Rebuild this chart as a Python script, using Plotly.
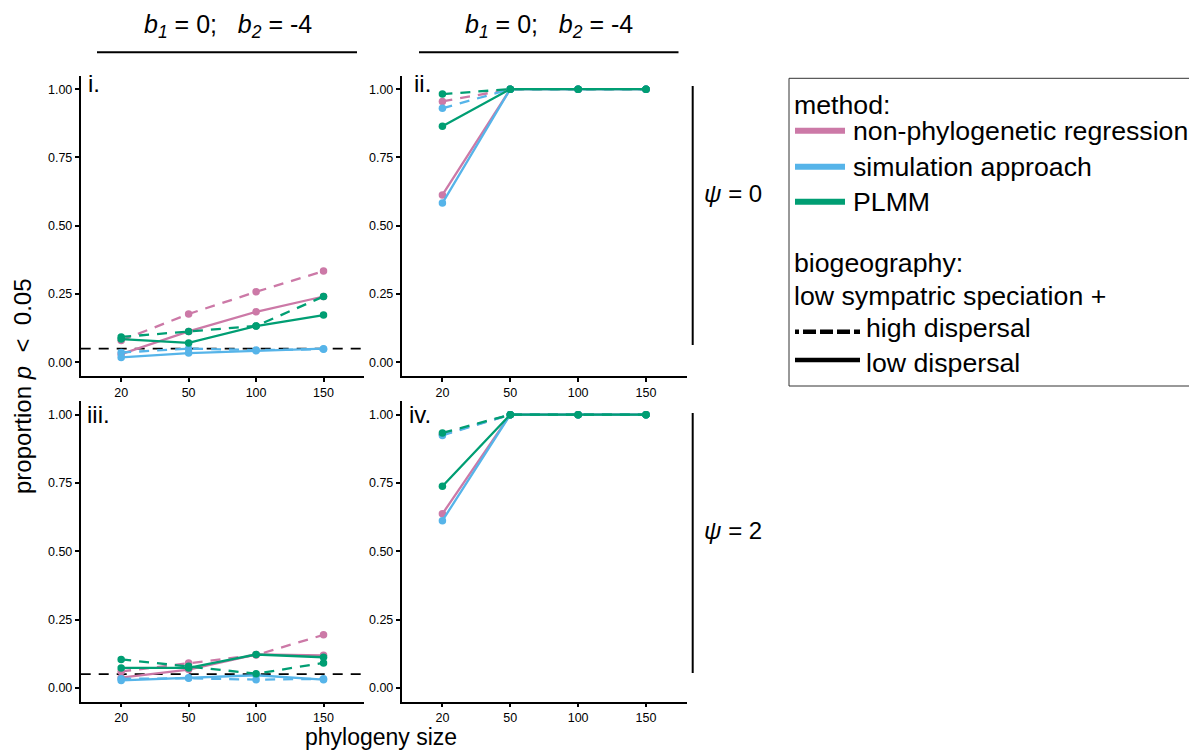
import plotly.graph_objects as go

W, H = 1189, 750

# ---------------- data ----------------
sizes = ["20", "50", "100", "150"]
alpha = 0.05
y_ticks = [0.0, 0.25, 0.5, 0.75, 1.0]

# panel i   (psi = 0, left)
i_nonphylo_high = [0.080, 0.177, 0.258, 0.334]
i_nonphylo_low = [0.030, 0.113, 0.185, 0.241]
i_sim_high = [0.036, 0.050, 0.045, 0.048]
i_sim_low = [0.018, 0.034, 0.042, 0.050]
i_plmm_high = [0.093, 0.113, 0.133, 0.241]
i_plmm_low = [0.085, 0.071, 0.133, 0.173]

# panel ii  (psi = 0, right)
ii_nonphylo_high = [0.955, 1.0, 1.0, 1.0]
ii_nonphylo_low = [0.613, 1.0, 1.0, 1.0]
ii_sim_high = [0.930, 1.0, 1.0, 1.0]
ii_sim_low = [0.583, 1.0, 1.0, 1.0]
ii_plmm_high = [0.982, 1.0, 1.0, 1.0]
ii_plmm_low = [0.864, 1.0, 1.0, 1.0]

# panel iii (psi = 2, left)
iii_nonphylo_high = [0.060, 0.091, 0.120, 0.194]
iii_nonphylo_low = [0.037, 0.067, 0.122, 0.119]
iii_sim_high = [0.033, 0.035, 0.030, 0.033]
iii_sim_low = [0.027, 0.037, 0.046, 0.030]
iii_plmm_high = [0.104, 0.079, 0.052, 0.091]
iii_plmm_low = [0.073, 0.073, 0.122, 0.112]

# panel iv  (psi = 2, right)
iv_nonphylo_high = [0.927, 1.0, 1.0, 1.0]
iv_nonphylo_low = [0.637, 1.0, 1.0, 1.0]
iv_sim_high = [0.924, 1.0, 1.0, 1.0]
iv_sim_low = [0.612, 1.0, 1.0, 1.0]
iv_plmm_high = [0.933, 1.0, 1.0, 1.0]
iv_plmm_low = [0.738, 1.0, 1.0, 1.0]

method_names = ["non-phylogenetic regression", "simulation approach", "PLMM"]
method_colors = ["#CC79A7", "#56B4E9", "#009E73"]
panel_labels = ["i.", "ii.", "iii.", "iv."]
header_text = "<i>b</i><sub><i>1</i></sub> = 0;   <i>b</i><sub><i>2</i></sub> = -4"
psi_labels = ["<i>ψ</i> = 0", "<i>ψ</i> = 2"]
NB = "\u00a0"
y_title = f"proportion{NB}<i>p</i>{NB}{NB}<{NB}{NB}0.05"
x_title = "phylogeny size"

FONT = "Liberation Sans, Arial, sans-serif"
DASH = "10px,8px"


def px(x):
    return x / W


def py(y):
    return 1 - y / H


panels = [
    (i_nonphylo_high, i_nonphylo_low, i_sim_high, i_sim_low, i_plmm_high, i_plmm_low),
    (ii_nonphylo_high, ii_nonphylo_low, ii_sim_high, ii_sim_low, ii_plmm_high, ii_plmm_low),
    (iii_nonphylo_high, iii_nonphylo_low, iii_sim_high, iii_sim_low, iii_plmm_high, iii_plmm_low),
    (iv_nonphylo_high, iv_nonphylo_low, iv_sim_high, iv_sim_low, iv_plmm_high, iv_plmm_low),
]

# pixel geometry of the four panels (left, right, top, bottom)
col_x = [(80.7, 364.0), (401.7, 686.7)]
row_y = [(75.5, 376.0), (401.0, 701.5)]

fig = go.Figure()


def text_at(x, y, txt, size, xanchor="center", yanchor="middle", angle=0):
    fig.add_annotation(x=px(x), y=py(y), xref="paper", yref="paper",
                       text=txt, showarrow=False, xanchor=xanchor, yanchor=yanchor,
                       textangle=angle, font=dict(family=FONT, size=size, color="black"))


for p, series in enumerate(panels):
    r, c = divmod(p, 2)
    n = p + 1
    xa = "x" if n == 1 else f"x{n}"
    ya = "y" if n == 1 else f"y{n}"
    for m in range(3):
        high = series[2 * m]
        low = series[2 * m + 1]
        for vals, dash in ((high, DASH), (low, "solid")):
            fig.add_trace(go.Scatter(
                x=sizes, y=vals, xaxis=xa, yaxis=ya,
                mode="lines+markers",
                line=dict(color=method_colors[m], width=2.3, dash=dash),
                marker=dict(color=method_colors[m], size=7.5),
                showlegend=False, hoverinfo="skip",
            ))
    x0, x1 = col_x[c]
    y0, y1 = row_y[r]
    axis_common = dict(
        showgrid=False, zeroline=False, showline=True, linecolor="black",
        linewidth=1.8, ticks="outside", ticklen=4, tickwidth=1.5, tickcolor="black",
        tickfont=dict(family=FONT, size=12.5, color="black"),
    )
    fig.layout[f"xaxis{'' if n == 1 else n}"] = dict(
        domain=[px(x0), px(x1)], anchor=ya, type="category",
        categoryarray=sizes, range=[-0.6, 3.6], **axis_common)
    fig.layout[f"yaxis{'' if n == 1 else n}"] = dict(
        domain=[py(y1), py(y0)], anchor=xa, range=[-0.05, 1.05],
        tickvals=y_ticks, tickformat=".2f", **axis_common)
    # significance threshold in left column
    if c == 0:
        fig.add_shape(type="line", xref=f"{xa} domain", yref=ya,
                      x0=0, x1=1, y0=alpha, y1=alpha, layer="below",
                      line=dict(color="black", width=1.8, dash=DASH))
    # panel label
    lbl_x = [86, 412][c] if r == 0 else [85, 407][c]
    lbl_y = [84, 414][r]
    text_at(lbl_x, lbl_y, panel_labels[p], 24, xanchor="left")

# column headers
for hx, (lx0, lx1) in zip([228, 549], [(97, 357), (419, 678.5)]):
    fig.add_shape(type="line", xref="paper", yref="paper",
                  x0=px(lx0), x1=px(lx1), y0=py(52.3), y1=py(52.3),
                  line=dict(color="black", width=2))
    text_at(hx, 26, header_text, 25)

# row strips
for (ly0, ly1), ty, txt in zip([(86, 345), (413, 673)], [193, 530], psi_labels):
    fig.add_shape(type="line", xref="paper", yref="paper",
                  x0=px(692.7), x1=px(692.7), y0=py(ly0), y1=py(ly1),
                  line=dict(color="black", width=2))
    text_at(733, ty, txt, 24)

# axis titles
text_at(22, 386, y_title, 24, angle=-90)
text_at(381, 737, x_title, 23)

# legend (drawn by hand)
LFS = 26.7
fig.add_shape(type="rect", xref="paper", yref="paper",
              x0=px(789), x1=px(1300), y0=py(386), y1=py(78.3),
              line=dict(color="#333333", width=1), fillcolor="white", layer="below")


def ltext(x, baseline, txt):
    text_at(x - 2, baseline - 0.33 * LFS, txt, LFS, xanchor="left")


ltext(794, 114, "method:")
for name, col, ly, base in zip(method_names, method_colors, [130.7, 166.7, 201.7], [140, 176, 210.7]):
    fig.add_shape(type="line", xref="paper", yref="paper",
                  x0=px(795), x1=px(845), y0=py(ly), y1=py(ly),
                  line=dict(color=col, width=6))
    ltext(853, base, name)
ltext(794, 271.7, "biogeography:")
ltext(794, 305, "low sympatric speciation +")
fig.add_shape(type="line", xref="paper", yref="paper",
              x0=px(795), x1=px(860), y0=py(331.7), y1=py(331.7),
              line=dict(color="black", width=4.5,
                        dash="4px,4px,13px,4px,13px,4px,13px,4px,6px,100px"))
ltext(866, 336.7, "high dispersal")
fig.add_shape(type="line", xref="paper", yref="paper",
              x0=px(795), x1=px(860), y0=py(360), y1=py(360),
              line=dict(color="black", width=4.5))
ltext(866, 371.7, "low dispersal")

fig.update_layout(
    width=W, height=H, margin=dict(l=0, r=0, t=0, b=0),
    paper_bgcolor="white", plot_bgcolor="white",
    font=dict(family=FONT, color="black"), showlegend=False,
)

fig.write_html("out.html")
